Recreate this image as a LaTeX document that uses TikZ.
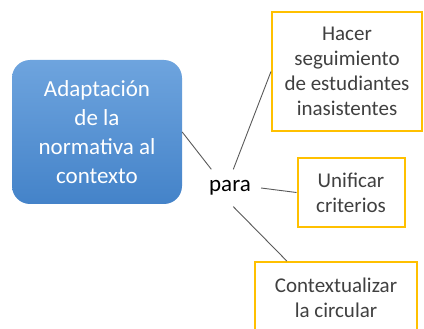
\documentclass[tikz,border=0pt]{standalone}
\usepackage{fontspec}
\setmainfont{Carlito}
\usetikzlibrary{calc}
\definecolor{gold}{RGB}{255,192,0}
\definecolor{blueTop}{RGB}{110,164,222}
\definecolor{blueBot}{RGB}{68,131,201}
\definecolor{txtgray}{RGB}{64,64,64}
\definecolor{linegray}{RGB}{89,89,89}
\tikzset{
  mainbox/.style={rounded corners=18pt, top color=blueTop, bottom color=blueBot, draw=none,
    text=white, align=center, inner sep=0pt,
    font=\fontsize{23}{29}\selectfont},
  goalbox/.style={draw=gold, line width=2pt, fill=white, text=txtgray, align=center, inner sep=0pt,
    font=\fontsize{21}{25}\selectfont},
  conn/.style={draw=linegray, line width=0.9pt},
  linkword/.style={font=\fontsize{23}{28}\selectfont, text=black, inner xsep=10pt, inner ysep=11pt}
}
\begin{document}
\begin{tikzpicture}[x=1pt,y=-1pt]
\useasboundingbox (0,0) rectangle (424,329);
\node[mainbox, minimum width=170pt, minimum height=144pt] (main) at (97,132)
  {Adaptación\\de la\\normativa al\\contexto};
\node[linkword] (para) at (230,188) {para};
\node[goalbox, minimum width=150pt, minimum height=119pt] (g1) at (347,71.5)
  {Hacer\\seguimiento\\de estudiantes\\inasistentes};
\node[goalbox, minimum width=107pt, minimum height=69pt] (g2) at (351,192.5)
  {Unificar\\criterios};
\node[goalbox, minimum width=162pt, minimum height=72pt] (g3) at (336,298)
  {Contextualizar\\la circular};
\draw[conn] (main.east) -- (para.135);
\draw[conn] (para.80) -- (g1.west);
\draw[conn] (para.east) -- (g2.west);
\draw[conn] (para.-80) -- ($(g3.north west)!0.2!(g3.north east)$);
\end{tikzpicture}
\end{document}
